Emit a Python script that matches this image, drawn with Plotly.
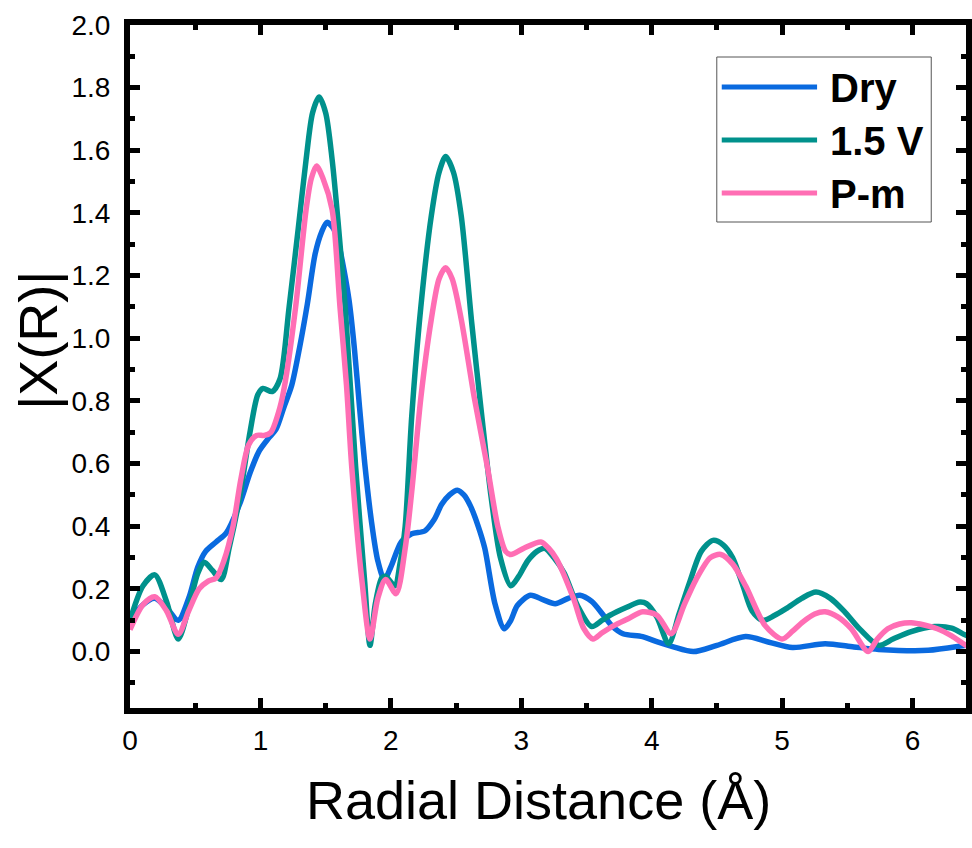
import plotly.graph_objects as go

# ---------------- data ----------------
dry_x = [0.00, 0.10, 0.19, 0.28, 0.37, 0.45, 0.52, 0.58, 0.66, 0.74, 0.84, 0.92, 0.99, 1.06, 1.12,
         1.18, 1.24, 1.30, 1.36, 1.42, 1.47, 1.51, 1.56, 1.60, 1.64, 1.68, 1.72, 1.76, 1.80, 1.85,
         1.90, 1.95, 2.00, 2.08, 2.16, 2.26, 2.33, 2.39, 2.45, 2.51, 2.56, 2.61, 2.67, 2.72, 2.80,
         2.87, 2.92, 2.97, 3.07, 3.17, 3.26, 3.36, 3.45, 3.54, 3.63, 3.70, 3.78, 3.93, 4.05, 4.16,
         4.32, 4.50, 4.72, 4.90, 5.08, 5.33, 5.55, 5.74, 6.12, 6.41, 6.50]
dry_y = [0.10, 0.15, 0.17, 0.14, 0.10, 0.17, 0.27, 0.32, 0.35, 0.38, 0.47, 0.57, 0.64, 0.68, 0.71,
         0.78, 0.85, 0.97, 1.11, 1.27, 1.34, 1.37, 1.35, 1.30, 1.22, 1.12, 0.97, 0.78, 0.60, 0.42,
         0.29, 0.23, 0.27, 0.35, 0.376, 0.385, 0.42, 0.47, 0.50, 0.515, 0.50, 0.465, 0.40, 0.33, 0.15,
         0.073, 0.10, 0.147, 0.18, 0.165, 0.153, 0.17, 0.18, 0.16, 0.116, 0.08, 0.057, 0.048, 0.03, 0.016,
         0.0, 0.02, 0.048, 0.03, 0.013, 0.025, 0.015, 0.007, 0.004, 0.02, 0.025]

v15_x = [0.00, 0.10, 0.19, 0.28, 0.37, 0.45, 0.52, 0.57, 0.63, 0.70, 0.76, 0.84, 0.92, 0.98, 1.02,
         1.09, 1.15, 1.22, 1.29, 1.35, 1.40, 1.45, 1.50, 1.55, 1.60, 1.65, 1.73, 1.80, 1.84, 1.88,
         1.93, 1.96, 2.03, 2.07, 2.11, 2.16, 2.23, 2.31, 2.37, 2.42, 2.48, 2.54, 2.62, 2.69, 2.77,
         2.84, 2.92, 2.98, 3.05, 3.12, 3.18, 3.25, 3.33, 3.43, 3.54, 3.62, 3.68, 3.80, 3.91, 3.96,
         4.04, 4.13, 4.21, 4.29, 4.38, 4.47, 4.55, 4.62, 4.70, 4.77, 4.85, 4.94, 5.03, 5.15, 5.26,
         5.37, 5.48, 5.60, 5.74, 5.85, 5.99, 6.17, 6.30, 6.41, 6.50]
v15_y = [0.10, 0.21, 0.245, 0.16, 0.04, 0.14, 0.25, 0.285, 0.26, 0.23, 0.33, 0.49, 0.70, 0.82, 0.84,
         0.83, 0.87, 1.10, 1.35, 1.57, 1.72, 1.77, 1.72, 1.57, 1.35, 1.10, 0.59, 0.22, 0.02, 0.15,
         0.235, 0.24, 0.21, 0.28, 0.40, 0.75, 1.10, 1.39, 1.53, 1.58, 1.53, 1.39, 1.05, 0.78, 0.49,
         0.30, 0.21, 0.24, 0.29, 0.32, 0.33, 0.30, 0.25, 0.148, 0.08, 0.10, 0.116, 0.14, 0.158, 0.153,
         0.11, 0.025, 0.12, 0.22, 0.32, 0.355, 0.34, 0.30, 0.21, 0.13, 0.10, 0.115, 0.137, 0.17, 0.19,
         0.17, 0.127, 0.07, 0.02, 0.04, 0.064, 0.08, 0.075, 0.052, 0.04]

pm_x = [0.00, 0.10, 0.19, 0.28, 0.37, 0.45, 0.53, 0.60, 0.66, 0.72, 0.79, 0.85, 0.91, 0.97, 1.03,
        1.08, 1.15, 1.19, 1.27, 1.35, 1.39, 1.43, 1.48, 1.55, 1.61, 1.66, 1.70, 1.78, 1.84, 1.90,
        1.96, 2.04, 2.11, 2.16, 2.23, 2.31, 2.37, 2.42, 2.47, 2.54, 2.64, 2.74, 2.82, 2.88, 2.92,
        3.02, 3.15, 3.21, 3.27, 3.40, 3.48, 3.55, 3.62, 3.71, 3.82, 3.93, 4.04, 4.15, 4.25, 4.34,
        4.45, 4.53, 4.62, 4.72, 4.87, 5.00, 5.08, 5.16, 5.25, 5.33, 5.43, 5.53, 5.66, 5.73, 5.81,
        5.90, 5.99, 6.09, 6.19, 6.30, 6.41, 6.50]
pm_y = [0.07, 0.15, 0.175, 0.13, 0.055, 0.13, 0.20, 0.225, 0.235, 0.29, 0.40, 0.55, 0.66, 0.69, 0.69,
        0.70, 0.78, 0.86, 1.10, 1.41, 1.51, 1.55, 1.51, 1.41, 1.10, 0.85, 0.59, 0.22, 0.04, 0.17,
        0.23, 0.185, 0.33, 0.51, 0.81, 1.06, 1.19, 1.225, 1.19, 1.06, 0.81, 0.59, 0.40, 0.32, 0.31,
        0.33, 0.35, 0.33, 0.296, 0.17, 0.073, 0.04, 0.06, 0.083, 0.105, 0.127, 0.116, 0.057, 0.15, 0.23,
        0.30, 0.31, 0.28, 0.21, 0.083, 0.04, 0.065, 0.095, 0.12, 0.127, 0.11, 0.073, 0.0, 0.04, 0.073,
        0.088, 0.092, 0.085, 0.073, 0.05, 0.02, 0.005]

series_names = ["Dry", "1.5 V", "P-m"]
series_colors = ["#0A6ADF", "#00918C", "#FF6EB4"]

x_range = [0, 6.41]
y_range = [-0.18, 2.0]

# ---------------- figure ----------------
W, H = 972, 848
ML, MR, MT, MB = 130, 0, 25, 140

fig = go.Figure()
for xs, ys, name, col in zip([dry_x, v15_x, pm_x], [dry_y, v15_y, pm_y], series_names, series_colors):
    fig.add_trace(go.Scatter(x=xs, y=ys, mode="lines", name=name,
                             line=dict(color=col, width=5.5, shape="spline", smoothing=0.8),
                             showlegend=False))

FONT = "Liberation Sans, Arial, sans-serif"

axis_common = dict(
    showline=True, linecolor="black", linewidth=6, mirror="ticks",
    ticks="inside", ticklen=10, tickwidth=5, tickcolor="black",
    showgrid=False, zeroline=False,
    tickfont=dict(family=FONT, size=28, color="black"),
)
fig.update_xaxes(range=x_range, dtick=1, tick0=0,
                 minor=dict(dtick=0.5, ticks="inside", ticklen=5, tickwidth=5, tickcolor="black"),
                 ticklabelstandoff=2, **axis_common)
fig.update_yaxes(range=y_range, dtick=0.2, tick0=0, tickformat=".1f",
                 minor=dict(dtick=0.1, ticks="inside", ticklen=5, tickwidth=5, tickcolor="black"),
                 ticklabelstandoff=8, **axis_common)

pw = W - ML - MR
ph = H - MT - MB

def px_x(p):
    return (p - ML) / pw

def px_y(p):
    return (H - MB - p) / ph

shapes = []
annotations = []
# legend box
shapes.append(dict(type="rect", xref="paper", yref="paper",
                   x0=px_x(721), x1=px_x(937), y0=px_y(222), y1=px_y(57),
                   line=dict(color="#555555", width=1), fillcolor="white", layer="above"))
for i, (name, col) in enumerate(zip(series_names, series_colors)):
    yy = 87 + 53 * i
    shapes.append(dict(type="line", xref="paper", yref="paper",
                       x0=px_x(726), x1=px_x(822), y0=px_y(yy), y1=px_y(yy),
                       line=dict(color=col, width=5), layer="above"))
    annotations.append(dict(xref="paper", yref="paper", x=px_x(833), y=px_y(yy + 1),
                            xanchor="left", yanchor="middle", showarrow=False,
                            text="<b>%s</b>" % name,
                            font=dict(family=FONT, size=40, color="black")))

# axis titles
annotations.append(dict(xref="paper", yref="paper", x=px_x(541), y=px_y(800),
                        xanchor="center", yanchor="middle", showarrow=False,
                        text="Radial Distance (Å)",
                        font=dict(family=FONT, size=54, color="black")))
annotations.append(dict(xref="paper", yref="paper", x=px_x(37), y=px_y(340),
                        xanchor="center", yanchor="middle", showarrow=False, textangle=-90,
                        text="|X(R)|",
                        font=dict(family=FONT, size=54, color="black")))

fig.update_layout(
    width=W, height=H,
    margin=dict(l=ML, r=MR, t=MT, b=MB, pad=0),
    plot_bgcolor="white", paper_bgcolor="white",
    shapes=shapes, annotations=annotations,
    showlegend=False,
)

fig.write_html("out.html")
